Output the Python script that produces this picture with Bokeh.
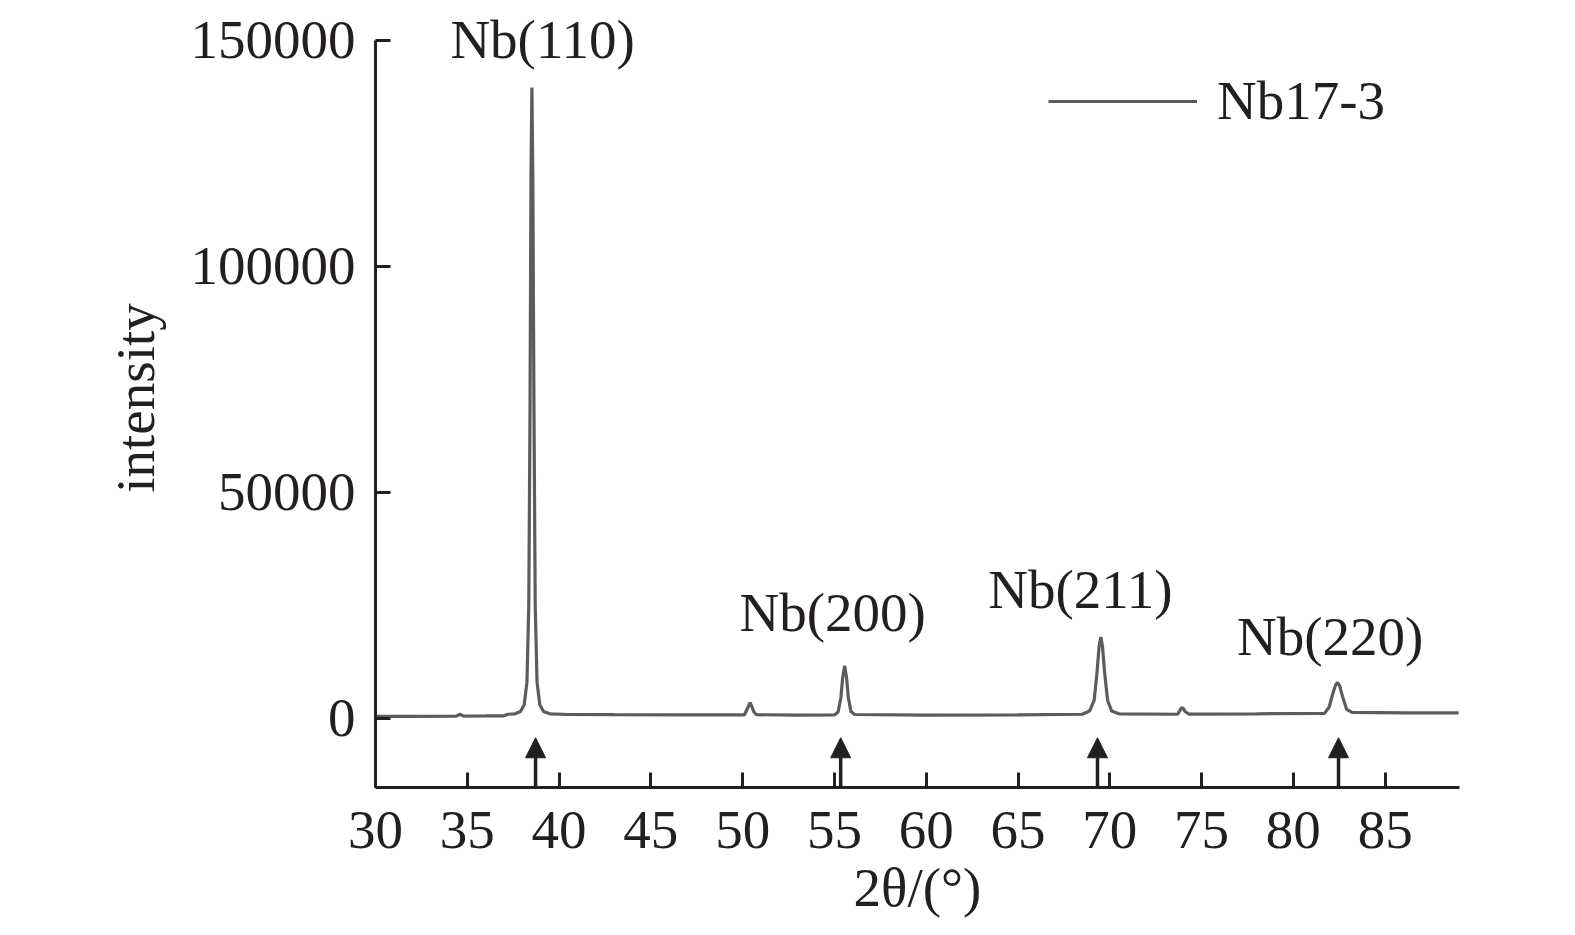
from bokeh.plotting import figure
from bokeh.models import (Range1d, FixedTicker, NumeralTickFormatter, Legend,
                          LegendItem, Arrow, NormalHead, Label)
from bokeh.embed import file_html
from bokeh.resources import INLINE

# ---- data ----
two_theta = [30.0, 32.0, 34.4, 34.6, 34.8, 36.0, 37.0, 37.2, 37.6, 37.9, 38.1,
             38.25, 38.35, 38.42, 38.47, 38.52, 38.57, 38.63, 38.7, 38.8, 38.95,
             39.15, 39.5, 40.5, 43.0, 47.0, 50.1, 50.3, 50.4, 50.5, 50.6, 50.75,
             53.0, 55.0, 55.2, 55.35, 55.45, 55.56, 55.66, 55.76, 55.9, 56.1,
             60.0, 65.0, 68.5, 68.9, 69.15, 69.3, 69.42, 69.51, 69.6, 69.72,
             69.88, 70.1, 70.5, 73.7, 73.9, 74.0, 74.1, 74.3, 78.0, 81.7, 81.95,
             82.15, 82.3, 82.41, 82.52, 82.68, 82.9, 83.2, 86.0, 89.0]
intensity = [420, 450, 480, 900, 500, 520, 560, 900, 1000, 1500, 3000,
             8000, 25000, 70000, 120000, 139500, 120000, 70000, 25000, 8000, 3000,
             1500, 1000, 850, 800, 750, 780, 2500, 3500, 2600, 1500, 800,
             700, 750, 1400, 4500, 9000, 11600, 9000, 4500, 1500, 850,
             700, 750, 900, 1600, 4000, 10000, 16000, 18000, 16000, 10000,
             4000, 1600, 1000, 900, 2300, 2200, 1500, 950, 1000, 1100, 2500,
             5500, 7400, 7900, 7200, 4800, 2000, 1300, 1200, 1200]

peak_labels = ["Nb(110)", "Nb(200)", "Nb(211)", "Nb(220)"]
label_x = [39.1, 54.9, 68.4, 82.0]
label_y = [150200, 23400, 28500, 18100]

ref_positions = [38.72, 55.34, 69.33, 82.46]   # standard Nb lines (arrows)

x_ticks = [30, 35, 40, 45, 50, 55, 60, 65, 70, 75, 80, 85]
y_ticks = [0, 50000, 100000, 150000]

series_name = "Nb17-3"

# ---- styling ----
FONT = "Liberation Serif"
FS = "55px"
INK = "#231f20"
TRACE = "#5c5c5c"
Y0, Y_AXIS_TOP, Y1 = -15300, 150000, 157000

p = figure(width=1567, height=927, output_backend="svg", toolbar_location=None,
           x_range=Range1d(30, 89.05), y_range=Range1d(Y0, Y1),
           min_border_left=375, min_border_top=8, min_border_right=108,
           min_border_bottom=140)
p.outline_line_color = None
p.grid.visible = False
p.background_fill_color = "white"
p.border_fill_color = "white"

r = p.line(two_theta, intensity, line_color=TRACE, line_width=3.2)

for ax in (p.xaxis[0], p.yaxis[0]):
    ax.axis_line_color = INK
    ax.axis_line_width = 3
    ax.major_tick_line_color = INK
    ax.major_tick_line_width = 3
    ax.major_tick_in = 15
    ax.major_tick_out = 0
    ax.minor_tick_line_color = None
    ax.major_label_text_font = FONT
    ax.major_label_text_font_size = FS
    ax.major_label_text_color = INK
    ax.axis_label_text_font = FONT
    ax.axis_label_text_font_size = FS
    ax.axis_label_text_color = INK
    ax.axis_label_text_font_style = "normal"

p.xaxis[0].ticker = FixedTicker(ticks=x_ticks)
p.yaxis[0].ticker = FixedTicker(ticks=y_ticks)
p.yaxis[0].bounds = (Y0, Y_AXIS_TOP)
p.yaxis[0].formatter = NumeralTickFormatter(format="0")
p.xaxis[0].axis_label = "2θ/(°)"
p.yaxis[0].axis_label = "intensity"
p.xaxis[0].major_label_standoff = 24
p.xaxis[0].axis_label_standoff = 6
p.yaxis[0].major_label_standoff = 20
p.yaxis[0].axis_label_standoff = 22

for xa in ref_positions:
    p.add_layout(Arrow(x_start=xa, y_start=Y0, x_end=xa, y_end=-4300,
                       line_color=INK, line_width=3.5,
                       end=NormalHead(size=20, fill_color=INK, line_color=INK,
                                      line_width=1)))

for t, lx, ly in zip(peak_labels, label_x, label_y):
    p.add_layout(Label(x=lx, y=ly, text=t, text_font=FONT, text_font_size=FS,
                       text_color=INK, text_align="center",
                       text_baseline="middle"))

legend = Legend(items=[LegendItem(label=series_name, renderers=[r])],
                location=(673, 655), border_line_color=None,
                background_fill_alpha=0, glyph_width=149, glyph_height=30,
                label_standoff=20, padding=0, margin=0, spacing=0,
                label_text_font=FONT, label_text_font_size=FS,
                label_text_color=INK)
p.add_layout(legend, "center")

open("out.html", "w").write(file_html(p, INLINE))
